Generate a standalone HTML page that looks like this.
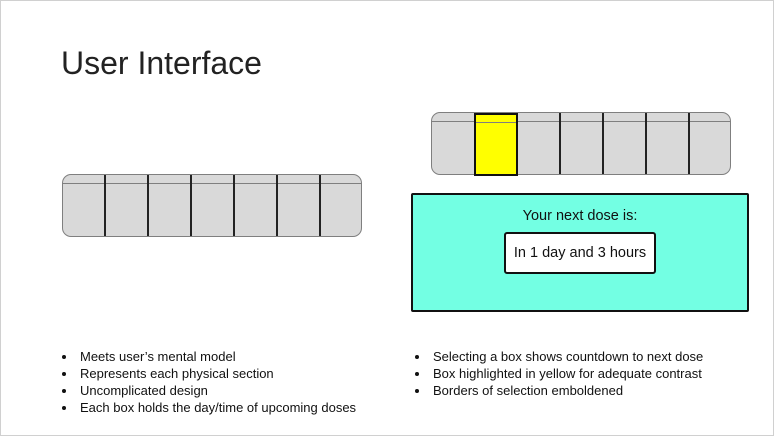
<!DOCTYPE html>
<html><head><meta charset="utf-8"><style>
html,body{margin:0;padding:0}
body{width:774px;height:436px;position:relative;background:#fff;font-family:"Liberation Sans",sans-serif;overflow:hidden}
.frame{position:absolute;left:0;top:0;width:772px;height:434px;border:1px solid #d0d0d0}
.title{position:absolute;left:61px;top:45px;font-size:32px;color:#222}
.pill{position:absolute;width:298px;height:61px;background:#d9d9d9;border:1px solid #7f7f7f;border-radius:9px;box-sizing:content-box}
.pill .top{position:absolute;left:0;right:0;top:8px;border-top:1px solid #7f7f7f}
.div{position:absolute;top:0;bottom:0;width:0;border-left:2px solid #222}
.yel{position:absolute;left:42px;top:0;width:40px;height:59px;background:#ffff00;border:2px solid #111}
.teal{position:absolute;left:411px;top:193px;width:334px;height:115px;background:#73ffe3;border:2px solid #111;border-radius:2px}
.teal .lbl{position:absolute;left:0;right:0;top:13px;text-align:center;font-size:14.5px;color:#111}
.wbox{position:absolute;left:91px;top:37px;width:148px;height:38px;background:#fff;border:2px solid #111;border-radius:3px;text-align:center;line-height:38px;font-size:14.5px;color:#111}
ul{position:absolute;margin:0;padding:0;list-style:none;font-size:13px;color:#111}
li{position:relative;padding-left:18px;height:17px;line-height:17px}
li:before{content:"";position:absolute;left:0;top:7px;width:4px;height:4px;border-radius:50%;background:#111}
</style></head><body>
<div class="frame"></div>
<div class="title">User Interface</div>

<div class="pill" style="left:62px;top:174px">
  <div class="top"></div>
  <div class="div" style="left:41px"></div><div class="div" style="left:84px"></div><div class="div" style="left:127px"></div>
  <div class="div" style="left:170px"></div><div class="div" style="left:213px"></div><div class="div" style="left:256px"></div>
</div>

<div class="pill" style="left:431px;top:112px">
  <div class="top"></div>
  <div class="div" style="left:84px"></div><div class="div" style="left:127px"></div>
  <div class="div" style="left:170px"></div><div class="div" style="left:213px"></div><div class="div" style="left:256px"></div>
  <div class="yel"><div style="position:absolute;left:0;right:0;top:7px;border-top:1px solid #7f7f7f"></div></div>
</div>

<div class="teal">
  <div class="lbl">Your next dose is:</div>
  <div class="wbox">In 1 day and 3 hours</div>
</div>

<ul style="left:62px;top:348px">
  <li>Meets user’s mental model</li>
  <li>Represents each physical section</li>
  <li>Uncomplicated design</li>
  <li>Each box holds the day/time of upcoming doses</li>
</ul>
<ul style="left:415px;top:348px">
  <li>Selecting a box shows countdown to next dose</li>
  <li>Box highlighted in yellow for adequate contrast</li>
  <li>Borders of selection emboldened</li>
</ul>
</body></html>
